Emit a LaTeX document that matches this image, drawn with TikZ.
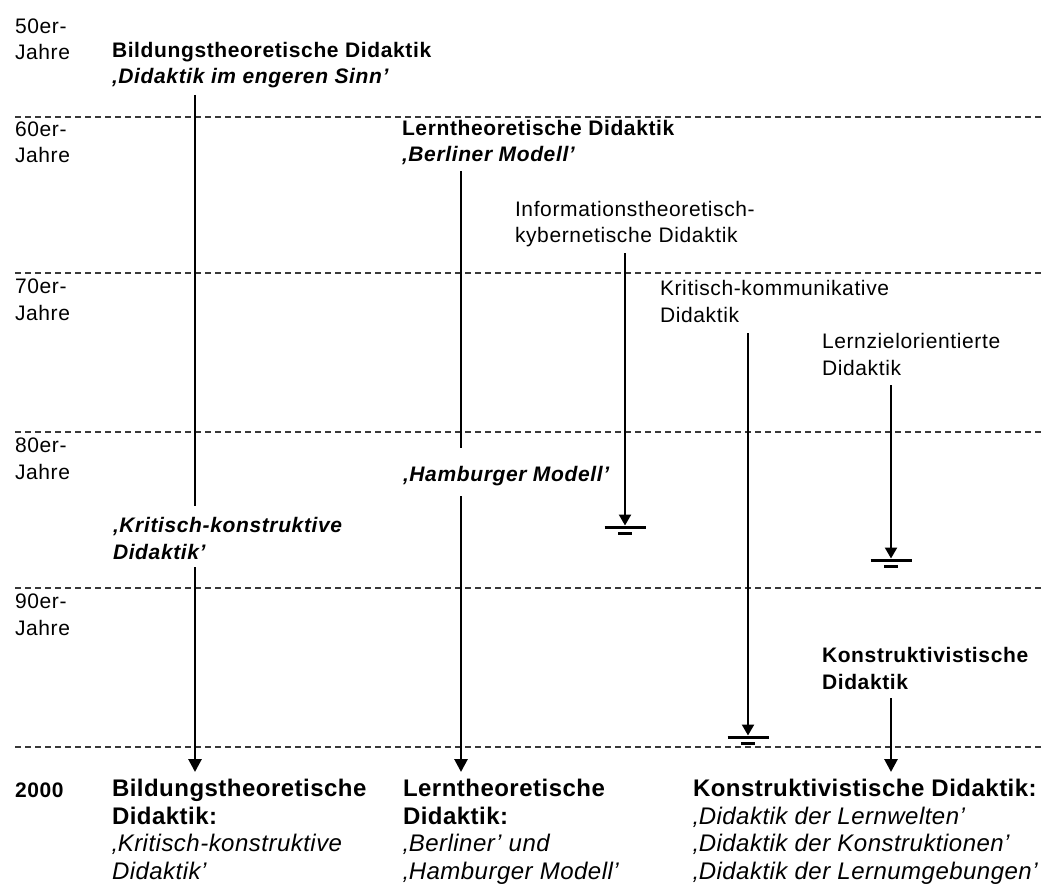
\documentclass[tikz,border=0pt]{standalone}
\usepackage{fontspec}
\setmainfont{Liberation Sans}
\newfontfamily\topfont[LetterSpace=3]{Liberation Sans}
\newfontfamily\botfont[LetterSpace=2]{Liberation Sans}
\usetikzlibrary{arrows.meta}
\begin{document}
\begin{tikzpicture}[x=1pt,y=-1pt,
  lbl/.style={anchor=base west, inner sep=0pt, outer sep=0pt, align=left,
    font=\topfont\fontsize{21}{26.5}\selectfont, text=black},
  bot/.style={anchor=base west, inner sep=0pt, outer sep=0pt, align=left,
    font=\botfont\fontsize{24}{27.5}\selectfont, text=black},
  era/.style={draw=black!78, line width=1.6pt, dash pattern=on 6pt off 4pt},
  flowline/.style={line width=2.8pt},
  flow/.style={line width=2.8pt, -{Triangle[length=13pt,width=13pt]}},
  endflow/.style={line width=2.3pt, -{Triangle[length=11pt,width=12pt]}},
  bar/.style={line width=3pt}]
\useasboundingbox (0,0) rectangle (1043,885);

% decade separators
\foreach \yy/\nm in {117/d6,273/d7,432/d8,588/d9,747/d0}{
  \coordinate (\nm l) at (15,\yy);
  \coordinate (\nm r) at (1043,\yy);
  \draw[era] (\nm l) -- (\nm r);
}

% decade labels (position = baseline of the last line)
\node[lbl] (y50) at (15,60)  {50er-\\Jahre};
\node[lbl] (y60) at (15,163) {60er-\\Jahre};
\node[lbl] (y70) at (15,320) {70er-\\Jahre};
\node[lbl] (y80) at (15,479) {80er-\\Jahre};
\node[lbl] (y90) at (15,635) {90er-\\Jahre};
\node[lbl,font=\topfont\bfseries\fontsize{21}{26.5}\selectfont] (y00) at (15,797) {2000};

% texts
\node[lbl] (bild) at (112,84) {\bfseries Bildungstheoretische Didaktik\\\bfseries\itshape ‚Didaktik im engeren Sinn’};
\node[lbl] (lern) at (402,162) {\bfseries Lerntheoretische Didaktik\\\bfseries\itshape ‚Berliner Modell’};
\node[lbl] (info) at (515,243) {Informationstheoretisch-\\kybernetische Didaktik};
\node[lbl] (krit) at (660,322) {Kritisch-kommunikative\\Didaktik};
\node[lbl] (lziel) at (822,375) {Lernzielorientierte\\Didaktik};
\node[lbl] (hamb) at (403,481) {\bfseries\itshape ‚Hamburger Modell’};
\node[lbl] (kkon) at (113,559) {\bfseries\itshape ‚Kritisch-konstruktive\\\bfseries\itshape Didaktik’};
\node[lbl] (konst) at (822,689) {\bfseries Konstruktivistische\\\bfseries Didaktik};

% results 2000
\node[bot] (rbild) at (112,879) {\bfseries Bildungstheoretische\\\bfseries Didaktik:\\\itshape ‚Kritisch-konstruktive\\\itshape Didaktik’};
\node[bot] (rlern) at (403,879) {\bfseries Lerntheoretische\\\bfseries Didaktik:\\\itshape ‚Berliner’ und\\\itshape ‚Hamburger Modell’};
\node[bot] (rkonst) at (693,879) {\bfseries Konstruktivistische Didaktik:\\\itshape ‚Didaktik der Lernwelten’\\\itshape ‚Didaktik der Konstruktionen’\\\itshape ‚Didaktik der Lernumgebungen’};

% connector end points
\coordinate (a1s) at (195,95);  \coordinate (a1m) at (195,506);
\coordinate (a1r) at (195,567); \coordinate (a1e) at (195,772);
\coordinate (a2s) at (461,171); \coordinate (a2m) at (461,448);
\coordinate (a2r) at (461,496); \coordinate (a2e) at (461,772);
\coordinate (a3s) at (625,253); \coordinate (a3e) at (625,525.5);
\coordinate (a4s) at (748,333); \coordinate (a4e) at (748,735.5);
\coordinate (a5s) at (891,385); \coordinate (a5e) at (891,558.5);
\coordinate (a6s) at (891,698); \coordinate (a6e) at (891,772);

% main lines
\draw[flowline] (a1s) -- (a1m);
\draw[flow] (a1r) -- (a1e);
\draw[flowline] (a2s) -- (a2m);
\draw[flow] (a2r) -- (a2e);
\draw[flow] (a6s) -- (a6e);

% lines that end
\foreach \a in {3,4,5}{
  \draw[endflow] (a\a s) -- (a\a e);
  \draw[bar] (a\a e) ++(-20.5,1.5) -- ++(41,0);
  \draw[bar] (a\a e) ++(-7,7.5) -- ++(14,0);
}
\end{tikzpicture}
\end{document}
